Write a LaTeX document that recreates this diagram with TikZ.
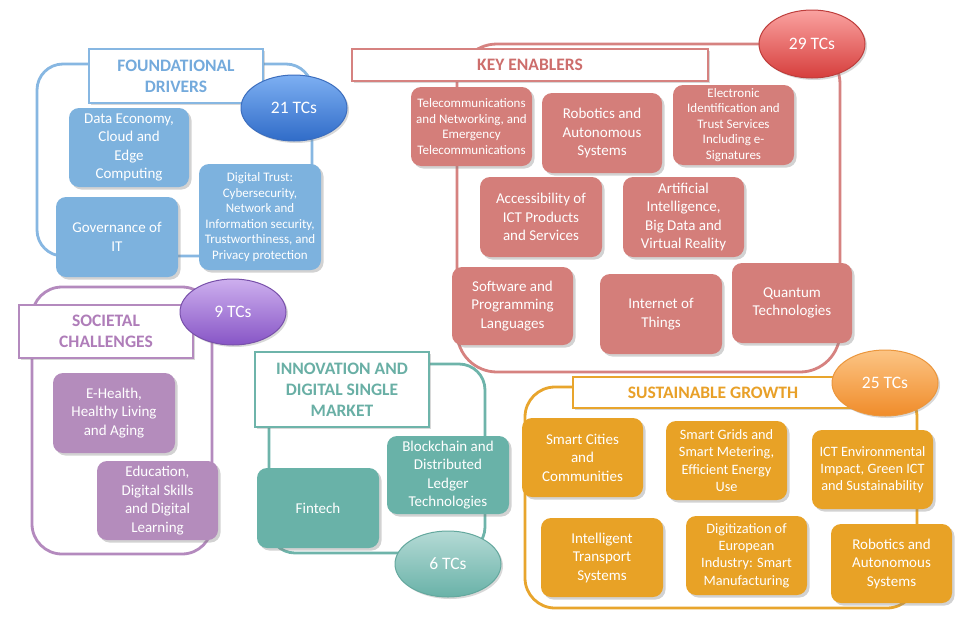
\documentclass[tikz,border=0pt]{standalone}
\usepackage{fontspec}
\setmainfont{Carlito}
\usetikzlibrary{shapes.geometric,shadows}
\definecolor{bBox}{RGB}{125,178,222}
\definecolor{bLine}{RGB}{135,183,226}
\definecolor{bText}{RGB}{116,170,220}
\definecolor{bTop}{RGB}{125,175,242}
\definecolor{bBot}{RGB}{48,108,200}
\definecolor{bEdge}{RGB}{60,110,190}
\definecolor{rBox}{RGB}{212,126,122}
\definecolor{rLine}{RGB}{214,130,128}
\definecolor{rText}{RGB}{205,110,108}
\definecolor{rTop}{RGB}{250,162,160}
\definecolor{rBot}{RGB}{214,62,60}
\definecolor{rEdge}{RGB}{190,62,60}
\definecolor{pBox}{RGB}{180,140,188}
\definecolor{pLine}{RGB}{180,138,190}
\definecolor{pText}{RGB}{175,125,185}
\definecolor{pTop}{RGB}{205,175,238}
\definecolor{pBot}{RGB}{135,85,198}
\definecolor{pEdge}{RGB}{120,80,170}
\definecolor{tBox}{RGB}{105,178,168}
\definecolor{tLine}{RGB}{110,180,170}
\definecolor{tText}{RGB}{105,175,165}
\definecolor{tTop}{RGB}{180,218,213}
\definecolor{tBot}{RGB}{105,178,168}
\definecolor{tEdge}{RGB}{100,168,158}
\definecolor{oBox}{RGB}{232,162,38}
\definecolor{oLine}{RGB}{232,165,45}
\definecolor{oText}{RGB}{232,160,40}
\definecolor{oTop}{RGB}{252,196,132}
\definecolor{oBot}{RGB}{240,140,42}
\definecolor{oEdge}{RGB}{235,150,60}
\tikzset{
  fsz/.style={font=\fontsize{15}{18.5}\selectfont},
  fss/.style={font=\fontsize{14.3}{17.3}\selectfont},
  fsx/.style={font=\fontsize{13}{15.6}\selectfont},
  card/.style={rectangle, rounded corners=10pt, inner sep=1pt, align=center,
    text=white, fsz, drop shadow={shadow xshift=2.5pt, shadow yshift=-2.5pt, opacity=0.35}},
  frm/.style={rectangle, draw, line width=2.8pt, rounded corners=26pt, inner sep=0pt},
  ttl/.style={rectangle, draw, line width=1.3pt, fill=white, inner sep=1pt, align=center,
    font=\fontsize{17.5}{21}\selectfont\bfseries,
    drop shadow={shadow xshift=2pt, shadow yshift=-2pt, opacity=0.3}},
  tcs/.style={ellipse, line width=1pt, inner sep=0pt, text=white,
    font=\fontsize{17.5}{20}\selectfont, minimum width=106pt, minimum height=66pt,
    drop shadow={shadow xshift=2pt, shadow yshift=-2pt, opacity=0.3}},
  blue/.style={card, fill=bBox},
  red/.style={card, fill=rBox},
  purp/.style={card, fill=pBox},
  teal/.style={card, fill=tBox},
  oran/.style={card, fill=oBox},
}
\begin{document}
\begin{tikzpicture}[x=1pt,y=-1pt]
\useasboundingbox[fill=white] (0,0) rectangle (960,624);

% ---------------- frames ----------------
\node[frm, draw=bLine, minimum width=275pt, minimum height=192pt] (fdf) at (174.5,160) {};
\node[frm, draw=rLine, rounded corners=40pt, minimum width=383pt, minimum height=328pt] (kef) at (648.5,208) {};
\node[frm, draw=pLine, rounded corners=30pt, minimum width=180pt, minimum height=267pt] (scf) at (122,420.5) {};
\node[frm, draw=tLine, rounded corners=26pt, minimum width=216pt, minimum height=189pt] (inf) at (377,458.5) {};
\node[frm, draw=oLine, rounded corners=30pt, minimum width=392pt, minimum height=221pt] (sgf) at (721,497.5) {};

% ---------------- foundational drivers ----------------
\node[ttl, draw=bLine, text=bText, minimum width=174pt, minimum height=54pt] (fdt) at (176,76) {FOUNDATIONAL\\DRIVERS};
\node[tcs, draw=bEdge, top color=bTop, bottom color=bBot] (fde) at (294,108) {21 TCs};
\node[blue, minimum width=120pt, minimum height=79pt] (de) at (129,147.5) {Data Economy,\\Cloud and\\Edge\\Computing};
\node[blue, fsx, minimum width=122pt, minimum height=106pt] (dt) at (260,217) {Digital Trust:\\Cybersecurity,\\Network and\\Information security,\\Trustworthiness, and\\Privacy protection};
\node[blue, minimum width=122pt, minimum height=80pt] (gov) at (117,237) {Governance of\\IT};

% ---------------- key enablers ----------------
\node[ttl, draw=rLine, text=rText, minimum width=356pt, minimum height=32pt] (ket) at (530,65) {KEY ENABLERS};
\node[tcs, draw=rEdge, top color=rTop, bottom color=rBot, minimum height=68pt] (kee) at (812,44) {29 TCs};
\node[red, fsx, minimum width=121pt, minimum height=79pt] (tel) at (471.5,126.5) {Telecommunications\\and Networking, and\\Emergency\\Telecommunications};
\node[red, minimum width=120pt, minimum height=80pt] (rob) at (602,133) {Robotics and\\Autonomous\\Systems};
\node[red, fsx, minimum width=121pt, minimum height=80pt] (eid) at (733.5,125) {Electronic\\Identification and\\Trust Services\\Including e-\\Signatures};
\node[red, minimum width=122pt, minimum height=80pt] (acc) at (541,217) {Accessibility of\\ICT Products\\and Services};
\node[red, minimum width=121pt, minimum height=80pt] (ai) at (683.5,217) {Artificial\\Intelligence,\\Big Data and\\Virtual Reality};
\node[red, minimum width=121pt, minimum height=78pt] (sw) at (512.5,306) {Software and\\Programming\\Languages};
\node[red, minimum width=122pt, minimum height=80pt] (iot) at (661,314) {Internet of\\Things};
\node[red, minimum width=120pt, minimum height=80pt] (qt) at (792,303) {Quantum\\Technologies};

% ---------------- societal challenges ----------------
\node[ttl, draw=pLine, text=pText, minimum width=174pt, minimum height=53pt] (sct) at (106,331.5) {SOCIETAL\\CHALLENGES};
\node[tcs, draw=pEdge, top color=pTop, bottom color=pBot] (sce) at (233,312) {9 TCs};
\node[purp, minimum width=122pt, minimum height=80pt] (eh) at (114,413) {E-Health,\\Healthy Living\\and Aging};
\node[purp, minimum width=121pt, minimum height=79pt] (edu) at (157.5,500.5) {Education,\\Digital Skills\\and Digital\\Learning};

% ---------------- innovation ----------------
\node[ttl, draw=tLine, text=tText, minimum width=174pt, minimum height=75pt] (int) at (342,389.5) {INNOVATION AND\\DIGITAL SINGLE\\MARKET};
\node[teal, minimum width=122pt, minimum height=78pt] (bc) at (448,475) {Blockchain and\\Distributed\\Ledger\\Technologies};
\node[teal, minimum width=122pt, minimum height=80pt] (ft) at (318,508) {Fintech};
\node[tcs, draw=tEdge, top color=tTop, bottom color=tBot] (ine) at (448,564) {6 TCs};

% ---------------- sustainable growth ----------------
\node[ttl, draw=oLine, text=oText, minimum width=280pt, minimum height=31pt] (sgt) at (713,392.5) {SUSTAINABLE GROWTH};
\node[tcs, draw=oEdge, top color=oTop, bottom color=oBot] (sge) at (885,383) {25 TCs};
\node[oran, minimum width=121pt, minimum height=79pt] (sc) at (582.5,457.5) {Smart Cities\\and\\Communities};
\node[oran, fss, minimum width=121pt, minimum height=79pt] (sg) at (726.5,460.5) {Smart Grids and\\Smart Metering,\\Efficient Energy\\Use};
\node[oran, fss, minimum width=121pt, minimum height=79pt] (ict) at (872.5,469.5) {ICT Environmental\\Impact, Green ICT\\and Sustainability};
\node[oran, minimum width=122pt, minimum height=79pt] (its) at (602,557.5) {Intelligent\\Transport\\Systems};
\node[oran, fss, minimum width=121pt, minimum height=79pt] (dig) at (746.5,555.5) {Digitization of\\European\\Industry: Smart\\Manufacturing};
\node[oran, minimum width=121pt, minimum height=79pt] (rob2) at (891.5,563.5) {Robotics and\\Autonomous\\Systems};
\end{tikzpicture}
\end{document}
